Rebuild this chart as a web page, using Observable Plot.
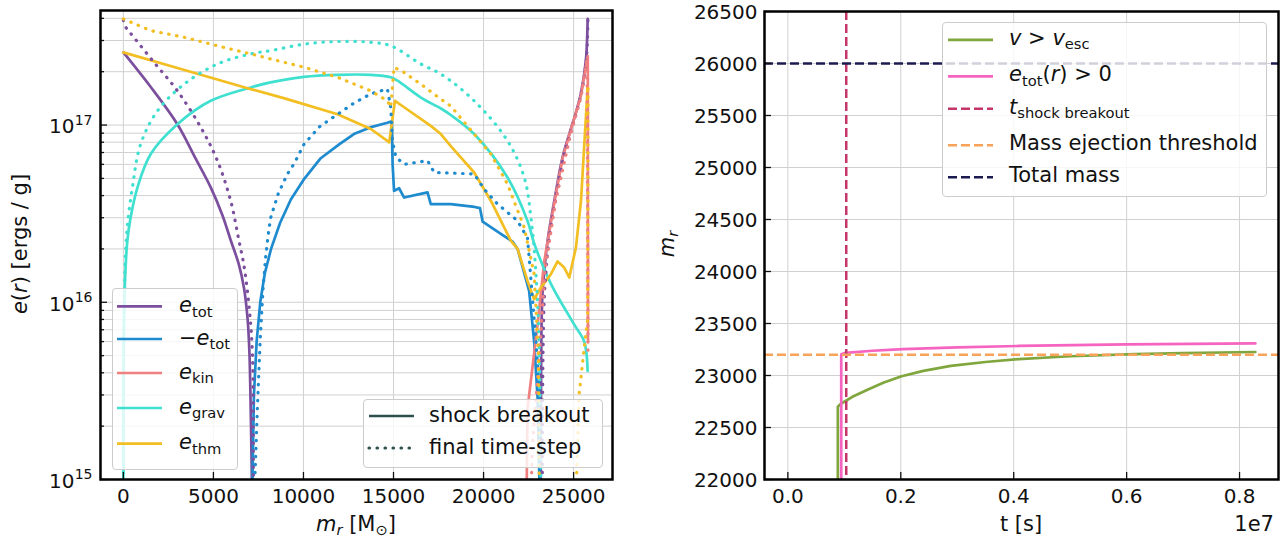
<!DOCTYPE html>
<html><head><meta charset="utf-8">
<script src="https://cdn.jsdelivr.net/npm/d3@7"></script>
<script src="https://cdn.jsdelivr.net/npm/@observablehq/plot@0.6"></script>
<style>
body{margin:0;background:#fff;font-family:"DejaVu Sans",sans-serif;color:#111;}
#wrap{position:relative;width:1281px;height:541px;overflow:hidden;background:#fff;}
.panel{position:absolute;top:0;}
.lab{position:absolute;font-size:21px;white-space:nowrap;line-height:1;}
sub{font-size:0.7em;vertical-align:baseline;position:relative;top:0.3em;line-height:0;}
.legend{position:absolute;background:rgba(255,255,255,0.8);border:1px solid #cccccc;border-radius:4px;box-sizing:border-box;}
.lt{position:absolute;font-size:21px;line-height:1;white-space:nowrap;color:#111;}
</style></head>
<body><div id="wrap"><div id="left" class="panel" style="left:0"></div><div id="right" class="panel" style="left:640px"></div></div>
<script>
// ---------------- data: left panel (m_r [Msun], e [erg/g]) ----------------
const leftTicksX = [0, 5000, 10000, 15000, 20000, 25000];
const leftMajorY = [1e15, 1e16, 1e17];
const leftMinorY = [2e15,3e15,4e15,5e15,6e15,7e15,8e15,9e15,2e16,3e16,4e16,5e16,6e16,7e16,8e16,9e16,2e17,3e17,4e17];

const eTotShock = [[0,2.57e17],[1500,1.65e17],[3000,1.01e17],[4000,6.5e16],[4850,4.45e16],[5500,3.1e16],[5960,2.24e16],[6400,1.65e16],[6700,1.2e16],[6900,8e15],[7000,5.2e15],[7070,2.5e15],[7130,1.08e15],[7150,1e14],[NaN,NaN],[23150,1e14],[23200,5e15],[23280,1.15e16],[23550,2.2e16],[23920,3.7e16],[24390,6.6e16],[24760,8.9e16],[25100,1.15e17],[25400,1.5e17],[25680,2.31e17],[25780,3.97e17]];
const negETotShock = [[7160,1e14],[7170,1e15],[7250,3e15],[7400,6e15],[7600,1.0e16],[7850,1.45e16],[8200,2.0e16],[8700,2.8e16],[9300,3.8e16],[10000,4.9e16],[10960,6.5e16],[12000,7.8e16],[12800,8.9e16],[13700,9.7e16],[14660,1.03e17],[14900,1.05e17],[14950,6e16],[15030,4.25e16],[15310,4.4e16],[15590,3.9e16],[16890,4.17e16],[17070,3.58e16],[18180,3.58e16],[19500,3.45e16],[19800,3.4e16],[19950,2.85e16],[20960,2.43e16],[21610,2.2e16],[21890,2.0e16],[22530,1.16e16],[22810,6e15],[23000,2.9e15],[23100,1e15],[23120,1e14]];
const eKinShock = [[22300,1e14],[22440,2.5e15],[23000,7.5e15],[23370,1.7e16],[23920,3.6e16],[24390,6.5e16],[24760,8.8e16],[25400,1.45e17],[25700,2.2e17],[25790,2.45e17],[25800,6e15]];
const eGravShock = [[0.5,1e14],[1,9e14],[5,2.5e15],[30,7e15],[100,1.4e16],[220,2.22e16],[400,3e16],[780,4.44e16],[1520,6.86e16],[3000,1.01e17],[4850,1.37e17],[7070,1.63e17],[8180,1.74e17],[10030,1.87e17],[11890,1.92e17],[13740,1.92e17],[14850,1.86e17],[15220,1.78e17],[16520,1.43e17],[17630,1.24e17],[18180,1.14e17],[19480,8.9e16],[21330,5.06e16],[22440,2.88e16],[22810,2.15e16],[23740,1.27e16],[25030,7.5e15],[25590,6e15],[25780,4.1e15]];
const eThmShock = [[0,2.57e17],[3000,2.1e17],[6850,1.62e17],[9000,1.41e17],[11890,1.15e17],[13740,9.5e16],[14660,8.15e16],[14760,7.98e16],[15080,1.37e17],[15590,1.26e17],[17070,9.9e16],[17630,8.9e16],[18180,7.6e16],[19480,5.4e16],[20410,3.73e16],[21520,2.22e16],[21890,2.0e16],[22440,1.32e16],[22810,1.04e16],[23180,1.21e16],[23740,1.44e16],[24110,1.7e16],[24480,1.57e16],[24760,1.38e16],[25130,2.04e16],[25410,3.73e16],[25780,1.63e17]];

const eTotFinal = [[0,3.9e17],[130,3.57e17],[500,3.2e17],[1700,2.26e17],[3000,1.56e17],[4300,9.7e16],[5220,6.3e16],[5960,3.73e16],[6420,2.22e16],[6700,1.6e16],[7000,9e15],[7170,5e15],[7220,1.08e15],[7230,1e14],[NaN,NaN],[23250,1e14],[23300,5e15],[23400,1.2e16],[23650,2.3e16],[24000,3.8e16],[24450,6.6e16],[24800,8.8e16],[25420,1.5e17],[25700,2.3e17],[25800,4e17]];
const negETotFinal = [[7250,1e14],[7300,1e15],[7440,2.5e15],[7600,6.3e15],[7750,1.17e16],[7900,1.79e16],[8040,2.4e16],[8180,3e16],[8600,4.1e16],[9110,5.3e16],[9500,6.1e16],[10030,7.8e16],[10900,9.8e16],[11890,1.15e17],[12800,1.33e17],[13740,1.5e17],[14660,1.6e17],[14850,1.25e17],[14940,8.15e16],[15130,6.6e16],[15590,6.0e16],[16890,6.3e16],[17260,5.4e16],[19480,5.3e16],[20030,4.35e16],[20780,3.58e16],[21890,2.88e16],[22440,2.3e16],[22530,1.79e16],[22910,6e15],[23090,3.2e15],[23150,1e14]];
const eKinFinal = [[22450,1e14],[22700,1.5e15],[23100,5e15],[23400,1.5e16],[24000,3.7e16],[24800,8.6e16],[25420,1.45e17],[25750,2.4e17],[25800,5e15]];
const eGravFinal = [[0.5,1e14],[1,1.1e15],[5,2.8e15],[40,9.4e15],[185,2.43e16],[500,4.44e16],[960,7.8e16],[1890,1.2e17],[3370,1.7e17],[5220,2.21e17],[7070,2.52e17],[8180,2.63e17],[10030,2.86e17],[11890,2.96e17],[13740,2.93e17],[14850,2.8e17],[16520,2.21e17],[17630,1.94e17],[19480,1.37e17],[21330,8.15e16],[22260,5.06e16],[22630,3e16],[22900,1.5e16],[23100,5e15],[23250,1e14]];
const eThmFinal = [[0,3.97e17],[1520,3.41e17],[3370,3.13e17],[5220,2.8e17],[7070,2.52e17],[8180,2.36e17],[10030,2.12e17],[11890,1.86e17],[13740,1.56e17],[14660,1.37e17],[14850,1.26e17],[15030,2.12e17],[15590,1.98e17],[16520,1.7e17],[17630,1.4e17],[18180,1.28e17],[19480,8.9e16],[20410,6.86e16],[21330,4.64e16],[22260,2.64e16],[22810,1.44e16],[23050,5e15],[23150,1e14],[NaN,NaN],[24850,1e14],[25310,3.05e15],[25590,5.5e15],[25780,8e15],[25800,1.6e17]];

// ---------------- data: right panel (t [s], m_r) ----------------
const rightTicksX = [0, 2e6, 4e6, 6e6, 8e6];
const rightTicksY = [22000,22500,23000,23500,24000,24500,25000,25500,26000,26500];
const vEscCurve = [[0.0885e7,21800],[0.0885e7,22700],[0.093e7,22725],[0.1007e7,22750],[0.1143e7,22795],[0.143e7,22868],[0.17e7,22932],[0.2015e7,22993],[0.24e7,23045],[0.2885e7,23092],[0.35e7,23130],[0.409e7,23158],[0.5e7,23185],[0.614e7,23206],[0.7e7,23215],[0.828e7,23226]];
const eTotPosCurve = [[0.0945e7,21800],[0.0945e7,23203],[0.102e7,23218],[0.15e7,23238],[0.204e7,23254],[0.3e7,23270],[0.409e7,23284],[0.6e7,23299],[0.828e7,23308]];
const tShockBreakout = [0.1034e7];
const massEjectionThreshold = [23200];
const totalMass = [26000];

// ---------------- styles ----------------
const C = {tot:"#7b4f9d", neg:"#1f8bcf", kin:"#f08080", grav:"#40e0d0", thm:"#f2be22",
           green:"#80a63e", pink:"#f564c0", crimson:"#c4356a", orange:"#f8a25a", navy:"#1b1b52", slate:"#2f4f4f"};
const grid = {stroke:"#d0d0d0", strokeWidth:1, strokeOpacity:1};
const tickStyle = {stroke:"#111", strokeWidth:1.3};
const font = {fontFamily:"DejaVu Sans", fontSize:"20px", color:"#111", background:"transparent", overflow:"visible"};
const DOT = "0.5,7.5";

// ---------------- left panel ----------------
const L = {w:640, h:541, ml:100, mr:28, mt:10, mb:62};
const lpw = L.w - L.ml - L.mr, lph = L.h - L.mt - L.mb;
// [data, colour, dotted, smooth]
const leftCurves = [
  [eTotShock, C.tot, false, true],[negETotShock, C.neg, false, false],[eKinShock, C.kin, false, false],[eGravShock, C.grav, false, true],[eThmShock, C.thm, false, false],
  [eTotFinal, C.tot, true, true],[negETotFinal, C.neg, true, false],[eKinFinal, C.kin, true, false],[eGravFinal, C.grav, true, true],[eThmFinal, C.thm, true, false]
];
const leftPlot = Plot.plot({
  width:L.w, height:L.h, marginLeft:L.ml, marginRight:L.mr, marginTop:L.mt, marginBottom:L.mb,
  style: font,
  x: {domain:[-1270, 27160]},
  y: {type:"log", domain:[1e15, 4.43e17], axis:null},
  marks: [
    Plot.ruleX(leftTicksX, grid),
    Plot.ruleY(leftMajorY.concat(leftMinorY), grid),
    ...leftCurves.map(([data, color, dotted, smooth]) => Plot.line(data, {
      x: d => d[0], y: d => d[1], stroke: color, curve: smooth ? "catmull-rom" : "linear",
      strokeWidth: dotted ? 3.2 : 2.7, strokeDasharray: dotted ? DOT : null,
      strokeLinecap: "round", clip: true
    })),
    Plot.tickX(leftTicksX, {x: d => d, insetTop: lph - 7, ...tickStyle}),
    Plot.tickY(leftMajorY, {y: d => d, insetRight: lpw - 7, ...tickStyle}),
    Plot.tickY(leftMinorY, {y: d => d, insetRight: lpw - 4, ...tickStyle}),
    Plot.axisX({ticks: leftTicksX, tickSize:0, tickPadding:9, tickFormat: d => String(d), label:null, fontSize:20}),
    Plot.text(leftMajorY, {y: d => d, frameAnchor:"left", text: () => "10", textAnchor:"end", dx:-26, dy:2, fontSize:20, fill:"#111"}),
    Plot.text(leftMajorY, {y: d => d, frameAnchor:"left", text: d => String(Math.round(Math.log10(d))), textAnchor:"end", dx:-8, dy:-5, fontSize:14, fill:"#111"}),
    Plot.frame({stroke:"#000", strokeWidth:2.5})
  ]
});
document.getElementById("left").appendChild(leftPlot);

// ---------------- right panel ----------------
const R = {w:641, h:541, ml:124, mr:3, mt:11, mb:62};
const rpw = R.w - R.ml - R.mr, rph = R.h - R.mt - R.mb;
const rightPlot = Plot.plot({
  width:R.w, height:R.h, marginLeft:R.ml, marginRight:R.mr, marginTop:R.mt, marginBottom:R.mb,
  style: font,
  x: {domain:[-0.0414e7, 0.869e7]},
  y: {domain:[22000, 26500]},
  marks: [
    Plot.ruleX(rightTicksX, grid),
    Plot.ruleY(rightTicksY, grid),
    Plot.line(vEscCurve, {x: d => d[0], y: d => d[1], stroke: C.green, strokeWidth: 2.7, clip: true}),
    Plot.line(eTotPosCurve, {x: d => d[0], y: d => d[1], stroke: C.pink, strokeWidth: 2.7, clip: true}),
    Plot.ruleX(tShockBreakout, {stroke: C.crimson, strokeWidth: 2.5, strokeDasharray: "9,4"}),
    Plot.ruleY(massEjectionThreshold, {stroke: C.orange, strokeWidth: 2.5, strokeDasharray: "9,4"}),
    Plot.ruleY(totalMass, {stroke: C.navy, strokeWidth: 2.5, strokeDasharray: "9,4"}),
    Plot.tickX(rightTicksX, {x: d => d, insetTop: rph - 7, ...tickStyle}),
    Plot.tickY(rightTicksY, {y: d => d, insetRight: rpw - 7, ...tickStyle}),
    Plot.axisX({ticks: rightTicksX, tickSize:0, tickPadding:9, tickFormat: d => (d / 1e7).toFixed(1), label:null, fontSize:20}),
    Plot.axisY({ticks: rightTicksY, tickSize:0, tickPadding:7, tickFormat: d => String(d), label:null, fontSize:20, dy:1}),
    Plot.frame({stroke:"#000", strokeWidth:2.5})
  ]
});
document.getElementById("right").appendChild(rightPlot);

// ---------------- labels & legends ----------------
const wrap = document.getElementById("wrap");
function label(html, cx, cy, rotate, align) {
  const d = document.createElement("div");
  d.className = "lab"; d.innerHTML = html;
  d.style.left = cx + "px"; d.style.top = cy + "px";
  const tx = align === "right" ? "-100%" : "-50%";
  d.style.transform = rotate ? "translate(-50%,-50%) rotate(-90deg)" : `translate(${tx},-50%)`;
  wrap.appendChild(d);
}
label("<i>e</i>(<i>r</i>) [ergs / g]", 20, 244, true);
label("<i>m</i><sub><i>r</i></sub> [M<sub>&#x2299;</sub>]", 356, 524, false);
label("<i>m</i><sub><i>r</i></sub>", 667, 244, true);
label("t [s]", 1021, 524, false);
label("1e7", 1274, 524, false, "right");

function legend(box, lx0, lx1, tx, rows) {
  const d = document.createElement("div");
  d.className = "legend";
  Object.assign(d.style, {left: box[0] + "px", top: box[1] + "px", width: (box[2] - box[0]) + "px", height: (box[3] - box[1]) + "px"});
  wrap.appendChild(d);
  const ns = "http://www.w3.org/2000/svg";
  const svg = document.createElementNS(ns, "svg");
  svg.setAttribute("width", box[2] - box[0]); svg.setAttribute("height", box[3] - box[1]);
  svg.style.position = "absolute"; svg.style.left = "-1px"; svg.style.top = "-1px"; svg.style.overflow = "visible";
  d.appendChild(svg);
  for (const r of rows) {
    const ln = document.createElementNS(ns, "line");
    ln.setAttribute("x1", lx0 - box[0]); ln.setAttribute("x2", lx1 - box[0]);
    ln.setAttribute("y1", r.y - box[1]); ln.setAttribute("y2", r.y - box[1]);
    ln.setAttribute("stroke", r.color); ln.setAttribute("stroke-width", r.w || 2.7);
    if (r.dash) ln.setAttribute("stroke-dasharray", r.dash);
    if (r.cap) ln.setAttribute("stroke-linecap", r.cap);
    svg.appendChild(ln);
    const t = document.createElement("div");
    t.className = "lt"; t.innerHTML = r.html;
    t.style.left = (tx - box[0] - 1) + "px"; t.style.top = (r.y - box[1] - 12.5) + "px";
    d.appendChild(t);
  }
}
legend([111.7, 288.3, 238.3, 470], 116.7, 161.7, 179, [
  {y:306.7, color:C.tot, html:"<i>e</i><sub>tot</sub>"},
  {y:339.3, color:C.neg, html:"&minus;<i>e</i><sub>tot</sub>"},
  {y:373.3, color:C.kin, html:"<i>e</i><sub>kin</sub>"},
  {y:408.3, color:C.grav, html:"<i>e</i><sub>grav</sub>"},
  {y:444, color:C.thm, html:"<i>e</i><sub>thm</sub>"}
]);
legend([363, 399, 603, 468], 369, 414, 429, [
  {y:416, color:C.slate, html:"shock breakout"},
  {y:448, color:C.slate, html:"final time-step", dash:DOT, w:3.2, cap:"round"}
]);
legend([942, 21.7, 1267, 197], 948, 993, 1009, [
  {y:39.5, color:C.green, html:"<i>v</i> &gt; <i>v</i><sub>esc</sub>"},
  {y:76, color:C.pink, html:"<i>e</i><sub>tot</sub>(<i>r</i>) &gt; 0"},
  {y:108.5, color:C.crimson, html:"<i>t</i><sub>shock breakout</sub>", dash:"9,4", w:2.5},
  {y:145, color:C.orange, html:"Mass ejection threshold", dash:"9,4", w:2.5},
  {y:177, color:C.navy, html:"Total mass", dash:"9,4", w:2.5}
]);
</script></body></html>
